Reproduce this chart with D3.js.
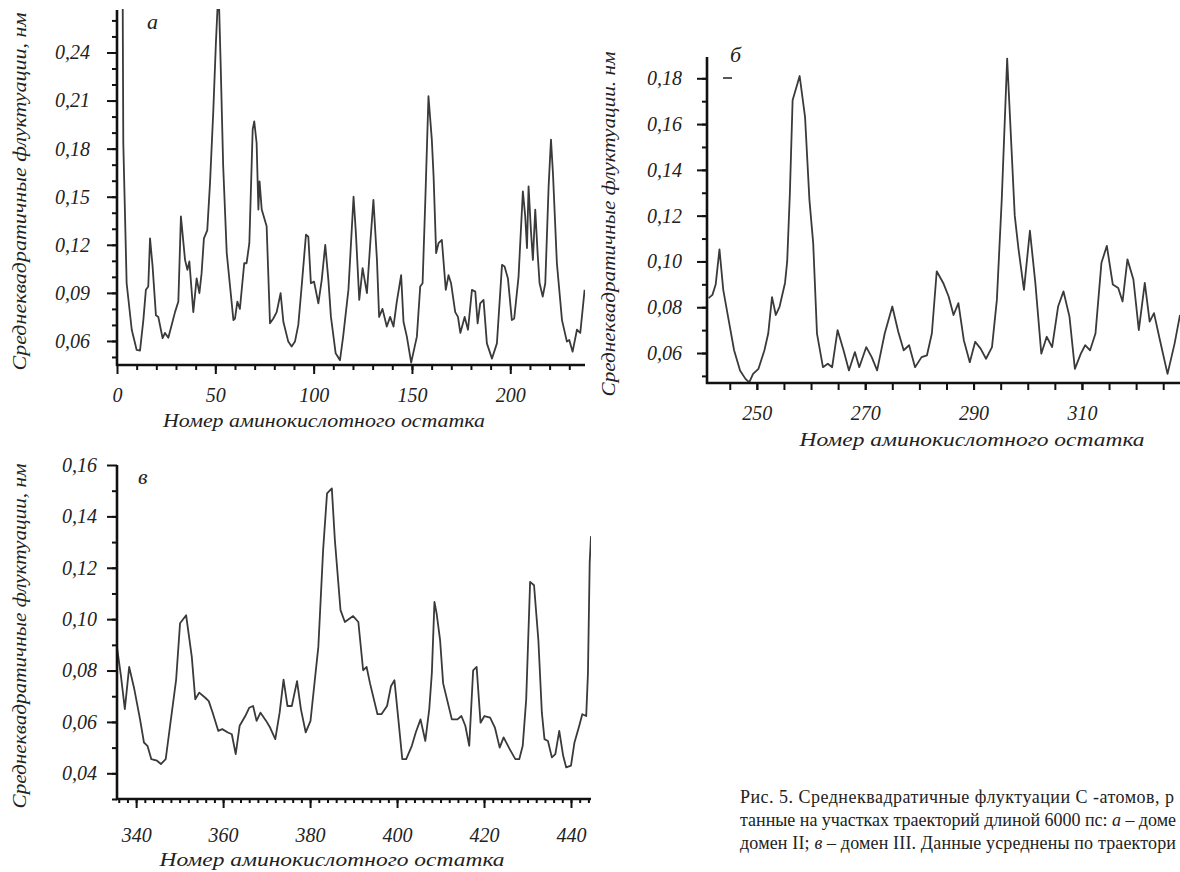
<!DOCTYPE html>
<html>
<head>
<meta charset="utf-8">
<script src="https://cdnjs.cloudflare.com/ajax/libs/d3/7.8.5/d3.min.js"></script>
<style>
  body { margin: 0; background: #fff; }
  svg { display: block; }
  .title { font-family: "Liberation Serif", serif; font-style: italic; fill: #222; }
  .caption { font-family: "Liberation Serif", serif; font-size: 18px; fill: #222; }
</style>
</head>
<body>
<script>
// panel а - domain I
var resA = [2.8, 3.2, 4.9, 7.5, 10, 11.7, 13.4, 14.7, 15.9, 16.8, 18.1, 19.8, 21, 23.2, 24.4, 26.1, 27.8, 29.5, 31.2, 32.5,
  34.6, 35.8, 36.8, 38.8, 40.5, 41.9, 43, 44.2, 45.9, 47.3, 49, 50.3, 51.2, 51.9, 52.7, 54, 55.8, 57.5, 59.2, 60,
  61.2, 62.5, 64.7, 65.9, 67.3, 69, 69.8, 71, 71.9, 72.5, 73.6, 76.1, 77.8, 79.5, 81.2, 83.2, 84.6, 87.1, 88.8, 90.5,
  92.2, 93.9, 96.1, 97.3, 98.6, 100.2, 102.4, 104.1, 105.9, 107.5, 108.8, 111.2, 113.4, 115, 117.7, 120.3, 121.5, 123.2, 124.9, 127.1,
  128.8, 130.4, 132.2, 133.3, 135, 137.2, 138.9, 140.6, 142.3, 144.5, 145.7, 147.4, 149.6, 152.5, 154.2, 155.4, 156.8, 158.4, 160.1, 161,
  162.3, 163.5, 165.2, 167.2, 168.6, 169.9, 172, 173.4, 174.6, 176.8, 178.5, 180.5, 182.2, 183.4, 184.7, 186.4, 188.1, 190.7, 193.2, 195.8,
  197.1, 198.8, 200.8, 202, 204.2, 206.4, 207.6, 208.5, 209.3, 210.5, 211.5, 212.7, 213.9, 214.9, 216.5, 217.8, 219.5, 220.7, 221.7, 223.7,
  226.3, 228.8, 230, 231.7, 233.9, 235.6, 237.8];
var rmsfA = [0.30, 0.1835, 0.096, 0.067, 0.0544, 0.054, 0.073, 0.092, 0.094, 0.124, 0.1065, 0.076, 0.075, 0.0617, 0.065, 0.062, 0.070, 0.078, 0.0846, 0.1377,
  0.1106, 0.1044, 0.1096, 0.078, 0.099, 0.0898, 0.102, 0.124, 0.129, 0.1585, 0.2044, 0.246, 0.27, 0.27, 0.2335, 0.169, 0.115, 0.094, 0.073, 0.074,
  0.0846, 0.080, 0.1085, 0.1085, 0.121, 0.192, 0.197, 0.1835, 0.142, 0.1596, 0.142, 0.1315, 0.071, 0.074, 0.078, 0.0898, 0.072, 0.0596, 0.0565, 0.0596,
  0.070, 0.094, 0.1263, 0.125, 0.096, 0.097, 0.0835, 0.098, 0.12, 0.098, 0.075, 0.0523, 0.048, 0.0627, 0.092, 0.150, 0.127, 0.0856, 0.1054, 0.0898,
  0.121, 0.148, 0.1106, 0.075, 0.080, 0.069, 0.075, 0.069, 0.0846, 0.101, 0.072, 0.0627, 0.0465, 0.0627, 0.094, 0.096, 0.148, 0.2127, 0.1856, 0.1627,
  0.1148, 0.121, 0.123, 0.0919, 0.101, 0.096, 0.078, 0.075, 0.065, 0.075, 0.067, 0.0919, 0.0908, 0.071, 0.0835, 0.0856, 0.0585, 0.049, 0.0585, 0.1075,
  0.1065, 0.099, 0.073, 0.074, 0.100, 0.1533, 0.1377, 0.118, 0.1565, 0.129, 0.1106, 0.142, 0.1148, 0.096, 0.0877, 0.096, 0.1565, 0.1856, 0.1648, 0.1085,
  0.073, 0.0596, 0.0606, 0.0533, 0.067, 0.065, 0.0919];

// panel б - domain II
var resB = [241.1, 241.8, 242.4, 243.1, 243.8, 244.8, 245.8, 246.9, 247.9, 248.6, 249.3, 250.3, 251.4, 252.1, 252.8, 253.5, 254.2, 255.2, 255.6, 256.1,
  256.6, 257.9, 258.9, 259.7, 260.4, 261.1, 262.2, 263.1, 263.9, 264.9, 266, 267, 268.1, 268.9, 270.2, 271.2, 272.2, 273.6, 275, 276.1,
  277.1, 278.1, 279.2, 280.4, 281.4, 282.3, 283.2, 284.4, 285.4, 286.3, 287.2, 288.2, 289.3, 290.3, 291.3, 292.3, 293.4, 294.3, 295.2, 296.2,
  297.6, 298.3, 299.3, 300.4, 301.4, 302.5, 303.5, 304.5, 305.6, 306.6, 307.7, 308.7, 309.8, 310.6, 311.5, 312.5, 313.6, 314.6, 315.7, 316.7,
  317.5, 318.4, 319.5, 320.5, 321.6, 322.5, 323.3, 324.4, 325.8, 327.1, 328.1];
var rmsfB = [0.084, 0.0854, 0.0899, 0.1053, 0.0876, 0.0744, 0.0612, 0.0524, 0.0487, 0.0472, 0.0509, 0.0531, 0.0612, 0.0685, 0.0844, 0.0766, 0.0803, 0.0906, 0.100, 0.130,
  0.1704, 0.181, 0.163, 0.127, 0.108, 0.0685, 0.0538, 0.0553, 0.0538, 0.070, 0.0612, 0.0524, 0.0604, 0.0538, 0.0626, 0.0582, 0.0524, 0.0685, 0.0803, 0.0693,
  0.0612, 0.0634, 0.0538, 0.0582, 0.059, 0.0685, 0.0957, 0.0906, 0.0847, 0.0766, 0.0818, 0.0656, 0.056, 0.0649, 0.0619, 0.0575, 0.0626, 0.0832, 0.127, 0.1886,
  0.12, 0.1053, 0.0876, 0.1134, 0.0906, 0.0597, 0.0671, 0.0626, 0.0803, 0.0869, 0.0759, 0.0531, 0.0597, 0.0634, 0.0612, 0.0685, 0.0994, 0.1068, 0.0899, 0.0884,
  0.0825, 0.1009, 0.0921, 0.070, 0.0906, 0.0737, 0.0774, 0.0656, 0.0509, 0.0641, 0.0766];

// panel в - domain III
var resC = [335.6, 336.5, 337.4, 338.4, 339.6, 340.9, 341.8, 342.6, 343.5, 344.8, 345.7, 346.8, 347.9, 349.2, 350.1, 351.5, 352.8, 353.6, 354.5, 355.9,
  356.7, 357.6, 358.9, 359.8, 361.1, 362, 362.9, 363.8, 365.1, 366, 366.9, 367.7, 368.6, 369.9, 370.8, 372, 373, 373.9, 374.8, 375.8,
  377, 377.9, 379, 380.1, 381.1, 381.9, 383, 383.9, 385, 385.7, 387, 388, 389.9, 391.1, 392.2, 393, 393.8, 395.5, 396.4, 397.7,
  398.6, 399.4, 400.3, 401.2, 402.1, 403.4, 404.3, 405.4, 406.5, 407.4, 408, 408.6, 409.1, 409.9, 410.6, 412.6, 413.9, 414.8, 415.7, 416.6,
  417.5, 418.3, 419.2, 420.1, 421.4, 422.5, 423.6, 424.5, 425.9, 427.2, 428.1, 428.9, 429.7, 430.6, 431.5, 432.5, 433.3, 433.9, 434.7, 435.6,
  436.4, 437.3, 438.2, 438.9, 440, 440.8, 441.9, 442.6, 443.5, 443.9, 444.3, 444.6];
var rmsfC = [0.089, 0.078, 0.065, 0.0814, 0.0726, 0.061, 0.052, 0.0507, 0.0455, 0.0449, 0.0436, 0.0455, 0.0597, 0.0765, 0.0984, 0.1015, 0.0853, 0.0688, 0.0714, 0.0694,
  0.0681, 0.0636, 0.0565, 0.0572, 0.0559, 0.0552, 0.0475, 0.0585, 0.0623, 0.0655, 0.0662, 0.0604, 0.0636, 0.0604, 0.0578, 0.0533, 0.0636, 0.0765, 0.0662, 0.0662,
  0.0759, 0.0649, 0.0559, 0.0604, 0.0765, 0.0892, 0.1269, 0.149, 0.1509, 0.1308, 0.1035, 0.0989, 0.1012, 0.0989, 0.0801, 0.0814, 0.0749, 0.063, 0.063, 0.0662,
  0.0739, 0.0762, 0.061, 0.0455, 0.0455, 0.0507, 0.0559, 0.061, 0.0526, 0.0649, 0.079, 0.1067, 0.1022, 0.0918, 0.075, 0.061, 0.061, 0.0623, 0.0585, 0.0507,
  0.0801, 0.0814, 0.0597, 0.0623, 0.0617, 0.0578, 0.05, 0.054, 0.0494, 0.0455, 0.0455, 0.0507, 0.0688, 0.1145, 0.1132, 0.0918, 0.0636, 0.0533, 0.0526, 0.0462,
  0.0475, 0.0565, 0.0468, 0.0423, 0.043, 0.052, 0.0585, 0.063, 0.0623, 0.079, 0.122, 0.1323];

// tick labels
var yTicksA = [0.06, 0.09, 0.12, 0.15, 0.18, 0.21, 0.24];
var xTicksA = [0, 50, 100, 150, 200];
var yTicksB = [0.06, 0.08, 0.10, 0.12, 0.14, 0.16, 0.18];
var xTicksB = [250, 270, 290, 310];
var yTicksC = [0.04, 0.06, 0.08, 0.10, 0.12, 0.14, 0.16];
var xTicksC = [340, 360, 380, 400, 420, 440];

var yTitle = "Среднеквадратичные флуктуации, нм";
var yTitleB = "Среднеквадратичные флуктуации. нм";
var xTitle = "Номер  аминокислотного остатка";
// caption as visible in the figure (cut by the right edge)
var captionLines = [
  [["Рис. 5. Среднеквадратичные флуктуации С -атомов, р", false]],
  [["танные на участках траекторий длиной 6000 пс: ", false], ["а", true], [" – доме", false]],
  [["домен II; ", false], ["в", true], [" – домен III. Данные усреднены по траектори", false]]
];

var W = 1180, H = 872;
var svg = d3.select("body").append("svg").attr("width", W).attr("height", H);

var fmt = function (d) { return d3.format(".2f")(d).replace(".", ","); };
var tickFont = '"Liberation Serif", "Times New Roman", serif';

var panels = [
  {id: "a", res: resA, val: rmsfA, left: 117, right: 585, top: 10, bottom: 365,
   xDom: [0, 238], yDom: [0.045, 0.2665], yMajor: yTicksA, xMajor: xTicksA,
   yMinor: d3.range(0.05, 0.265, 0.01), xMinor: d3.range(10, 238, 10), xMinorLen: 5, xMajorLen: 9,
   yPad: 17, xPad: 14, letter: "а", lx: 147, ly: 29, titleX: 26, titleLen: 358, xTitleX: 324, xTitleY: 427, xTitleLen: 322, ytl: yTitle},
  {id: "b", res: resB, val: rmsfB, left: 707, right: 1180, top: 57, bottom: 383,
   xDom: [240.8, 328.1], yDom: [0.0469, 0.1893], yMajor: yTicksB, xMajor: xTicksB,
   yMinor: d3.range(0.05, 0.185, 0.01), xMinor: d3.range(245, 328, 5), xMinorLen: 7, xMajorLen: 7,
   yPad: 15, xPad: 16, letter: "б", lx: 730, ly: 62, titleX: 615, titleLen: 345, xTitleX: 972, xTitleY: 446, xTitleLen: 345, ytl: yTitleB},
  {id: "c", res: resC, val: rmsfC, left: 117, right: 591, top: 465, bottom: 799,
   xDom: [335.6, 444.6], yDom: [0.03, 0.16], yMajor: yTicksC, xMajor: xTicksC,
   yMinor: d3.range(0.03, 0.16, 0.01), xMinor: d3.range(336, 445, 2), xMinorLen: 4, xMajorLen: 9,
   yPad: 10, xPad: 20, letter: "в", lx: 138, ly: 484, titleX: 26, titleLen: 345, xTitleX: 332, xTitleY: 866, xTitleLen: 345, ytl: yTitle}
];

panels.forEach(function (p) {
  var x = d3.scaleLinear().domain(p.xDom).range([p.left, p.right]);
  var y = d3.scaleLinear().domain(p.yDom).range([p.bottom, p.top]);
  var g = svg.append("g");

  g.append("clipPath").attr("id", "clip-" + p.id)
    .append("rect").attr("x", p.left).attr("y", p.top - 1)
    .attr("width", p.right - p.left).attr("height", p.bottom - p.top + 1);

  var line = d3.line()
    .x(function (d, i) { return x(p.res[i]); })
    .y(function (d) { return y(d); });

  g.append("path")
    .attr("d", line(p.val))
    .attr("clip-path", "url(#clip-" + p.id + ")")
    .attr("fill", "none")
    .attr("stroke", "#3a3a3a")
    .attr("stroke-width", 1.8)
    .attr("stroke-linejoin", "round");

  // minor ticks
  g.append("g").attr("transform", "translate(" + p.left + ",0)")
    .call(d3.axisLeft(y).tickValues(p.yMinor).tickSize(5).tickFormat(""))
    .call(function (s) { s.select(".domain").remove(); });
  g.append("g").attr("transform", "translate(0," + p.bottom + ")")
    .call(d3.axisBottom(x).tickValues(p.xMinor).tickSize(p.xMinorLen).tickFormat(""))
    .call(function (s) { s.select(".domain").remove(); });

  // major ticks with labels
  g.append("g").attr("transform", "translate(" + p.left + ",0)")
    .call(d3.axisLeft(y).tickValues(p.yMajor).tickSize(10).tickPadding(p.yPad).tickFormat(fmt))
    .call(function (s) { s.select(".domain").remove(); })
    .attr("font-family", tickFont).attr("font-size", 20)
    .selectAll("text").style("font-style", "italic").attr("fill", "#222");
  g.append("g").attr("transform", "translate(0," + p.bottom + ")")
    .call(d3.axisBottom(x).tickValues(p.xMajor).tickSize(p.xMajorLen).tickPadding(p.xPad).tickFormat(d3.format("d")))
    .call(function (s) { s.select(".domain").remove(); })
    .attr("font-family", tickFont).attr("font-size", 20)
    .selectAll("text").style("font-style", "italic").attr("fill", "#222");

  g.selectAll(".tick line").attr("stroke", "#111").attr("stroke-width", 2);

  // axis lines
  g.append("line").attr("x1", p.left).attr("x2", p.left).attr("y1", p.top).attr("y2", p.bottom + 1)
    .attr("stroke", "#111").attr("stroke-width", 2.6);
  g.append("line").attr("x1", p.left - 1).attr("x2", p.right).attr("y1", p.bottom).attr("y2", p.bottom)
    .attr("stroke", "#111").attr("stroke-width", 2.6);

  // titles
  g.append("text").attr("class", "title")
    .attr("transform", "translate(" + p.titleX + "," + ((p.top + p.bottom) / 2 + 4) + ") rotate(-90)")
    .attr("text-anchor", "middle").style("font-size", "18px")
    .attr("textLength", p.titleLen).attr("lengthAdjust", "spacingAndGlyphs")
    .text(p.ytl);
  g.append("text").attr("class", "title")
    .attr("x", p.xTitleX).attr("y", p.xTitleY)
    .attr("text-anchor", "middle").style("font-size", "19px")
    .attr("textLength", p.xTitleLen).attr("lengthAdjust", "spacingAndGlyphs")
    .text(xTitle);
  g.append("text").attr("class", "title")
    .attr("x", p.lx).attr("y", p.ly).style("font-size", "22px")
    .text(p.letter);
});

// small dash under panel б letter
svg.append("line").attr("x1", 723).attr("x2", 732).attr("y1", 78).attr("y2", 78)
  .attr("stroke", "#222").attr("stroke-width", 1.5);

// caption, justified to the right edge
var cap = svg.append("g").attr("class", "caption");
var capLens = [434, 436, 436];
captionLines.forEach(function (parts, i) {
  var t = cap.append("text").attr("x", 740).attr("y", 803 + i * 23)
    .attr("textLength", capLens[i]).attr("lengthAdjust", "spacing");
  parts.forEach(function (pt) {
    t.append("tspan").style("font-style", pt[1] ? "italic" : "normal").text(pt[0]);
  });
});
</script>
</body>
</html>
